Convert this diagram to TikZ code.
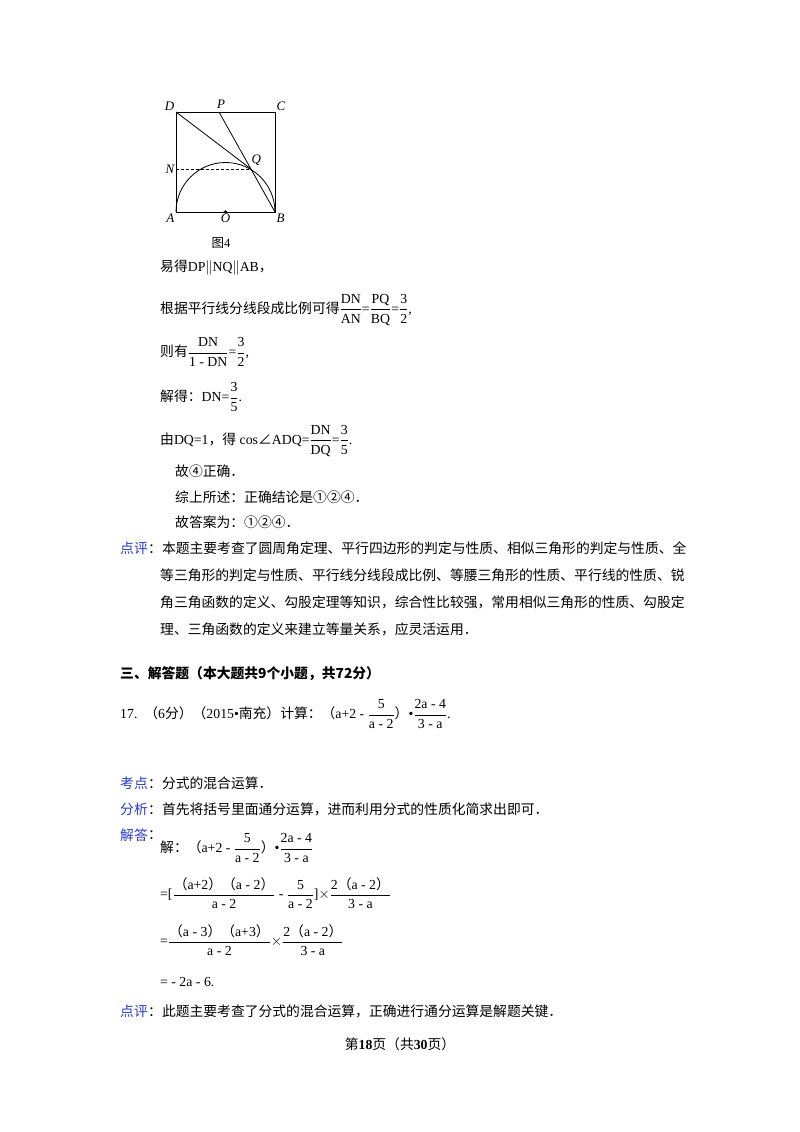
\documentclass[tikz,border=0pt]{standalone}
\usepackage{fontspec}
\usepackage{amsmath}
\setmainfont{Liberation Serif}
\newfontfamily\cjk{Noto Sans CJK SC}
\newcommand{\zh}[1]{{\cjk #1}}
\newcommand{\fr}[2]{$\dfrac{\mbox{#1}}{\mbox{#2}}$}
\definecolor{lb}{RGB}{40,60,200}
\begin{document}
\begin{tikzpicture}[x=1pt,y=-1pt,
  t/.style={anchor=west,inner sep=0,font=\fontsize{13.8}{16}\selectfont},
  lab/.style={font=\fontsize{13}{15}\selectfont\itshape,inner sep=1.5pt},
  bl/.style={t,text=lb}]
\useasboundingbox (0,0) rectangle (800,1132);
\fill[white] (0,0) rectangle (800,1132);
% figure
\coordinate (A) at (176,212); \coordinate (B) at (275,212);
\coordinate (C) at (275,112); \coordinate (D) at (176,112);
\coordinate (P) at (219,112); \coordinate (Q) at (251,169);
\coordinate (N) at (176,169); \coordinate (O) at (225.5,212);
\draw[line width=0.8pt] (A) -- (B) -- (C) -- (D) -- cycle;
\draw[line width=0.8pt] (D) -- (Q);
\draw[line width=0.8pt] (P) -- (B);
\draw[line width=0.8pt] (B) arc[start angle=0,end angle=-180,radius=49.5];
\draw[densely dashed,line width=0.6pt] (N) -- (Q);
\fill (O) circle (1.8pt);
\node[lab,anchor=south east] at (D) {D};
\node[lab,anchor=south] at (221,110) {P};
\node[lab,anchor=south west] at (C) {C};
\node[lab,anchor=east] at (N) {N};
\node[lab,anchor=south west] at (250,167) {Q};
\node[lab,anchor=north east] at (A) {A};
\node[lab,anchor=north] at (O) {O};
\node[lab,anchor=north west] at (B) {B};
\node[font=\fontsize{12.5}{14}\selectfont,inner sep=0] at (221,243) {\zh{图}4};
% text
\node[t] at (160,268) {\zh{易得}DP$\parallel$NQ$\parallel$AB\zh{，}};
\node[t] at (160,310) {\zh{根据平行线分线段成比例可得}\fr{DN}{AN}=\fr{PQ}{BQ}=\fr{3}{2},};
\node[t] at (160,352) {\zh{则有}\fr{DN}{1 - DN}=\fr{3}{2},};
\node[t] at (160,397) {\zh{解得：}DN=\fr{3}{5}.};
\node[t] at (160,441) {\zh{由}DQ=1\zh{，得} cos\zh{∠}ADQ=\fr{DN}{DQ}=\fr{3}{5}.};
\node[t] at (175,471) {\zh{故④正确．}};
\node[t] at (175,497) {\zh{综上所述：正确结论是①②④．}};
\node[t] at (175,522) {\zh{故答案为：①②④．}};
\node[bl] at (120,548) {\zh{点评}};
\node[t] at (148,548) {\zh{：本题主要考查了圆周角定理、平行四边形的判定与性质、相似三角形的判定与性质、全}};
\node[t] at (160,575) {\zh{等三角形的判定与性质、平行线分线段成比例、等腰三角形的性质、平行线的性质、锐}};
\node[t] at (160,602) {\zh{角三角函数的定义、勾股定理等知识，综合性比较强，常用相似三角形的性质、勾股定}};
\node[t] at (160,629) {\zh{理、三角函数的定义来建立等量关系，应灵活运用．}};
\node[t] at (120,674) {\cjk\bfseries 三、解答题（本大题共9个小题，共72分）};
\node[t] at (120,714) {17.\ \ \zh{（}6\zh{分）（}2015\textbullet\zh{南充）计算：（}a+2 - \fr{5}{a - 2}\zh{）}\textbullet\fr{2a - 4}{3 - a}.};
\node[bl] at (120,783) {\zh{考点}};
\node[t] at (148,783) {\zh{：分式的混合运算．}};
\node[bl] at (120,809) {\zh{分析}};
\node[t] at (148,809) {\zh{：首先将括号里面通分运算，进而利用分式的性质化简求出即可．}};
\node[bl] at (120,835) {\zh{解答}};
\node[t] at (148,835) {\zh{：}};
\node[t] at (160,848) {\zh{解：（}a+2 - \fr{5}{a - 2}\zh{）}\textbullet\fr{2a - 4}{3 - a}};
\node[t] at (160,893) {=[\fr{\zh{（}a+2\zh{）（}a - 2\zh{）}}{a - 2} - \fr{5}{a - 2}]$\times$\fr{2\zh{（}a - 2\zh{）}}{3 - a}};
\node[t] at (160,940) {=\fr{\zh{（}a - 3\zh{）（}a+3\zh{）}}{a - 2}$\times$\fr{2\zh{（}a - 2\zh{）}}{3 - a}};
\node[t] at (160,982) {= - 2a - 6.};
\node[bl] at (120,1011) {\zh{点评}};
\node[t] at (148,1011) {\zh{：此题主要考查了分式的混合运算，正确进行通分运算是解题关键．}};
\node[t,anchor=center] at (400,1044) {\zh{第}\textbf{18}\zh{页（共}\textbf{30}\zh{页）}};
\end{tikzpicture}
\end{document}
